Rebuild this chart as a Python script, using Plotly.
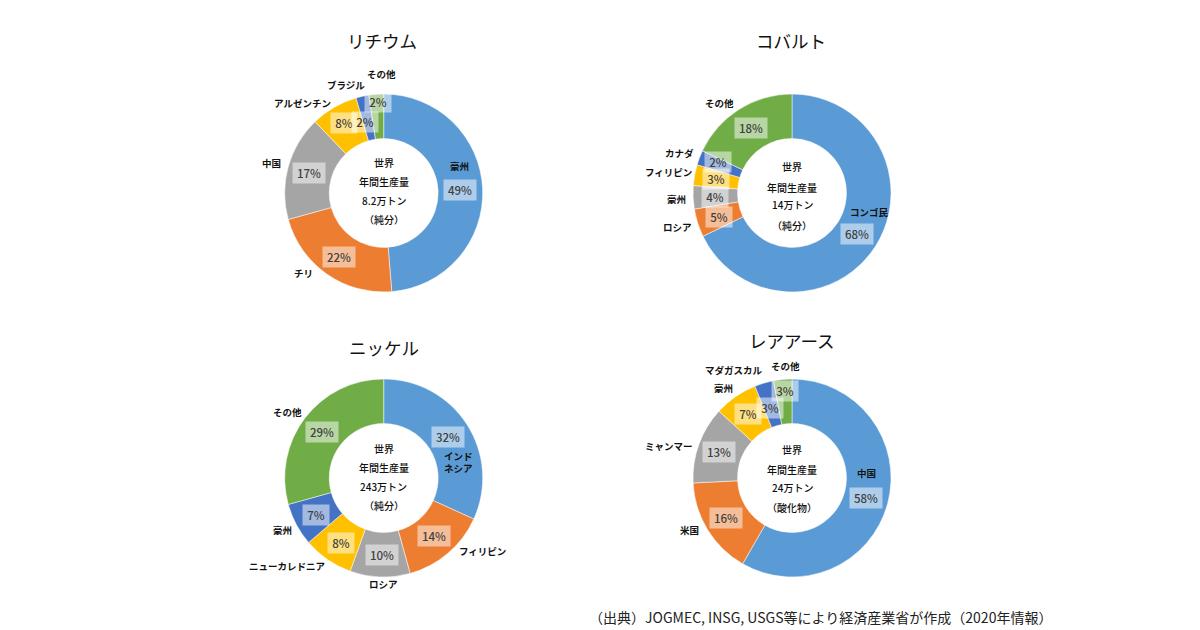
import plotly.graph_objects as go

W, H = 1200, 630
FONT = 'Noto Sans CJK JP'
COLORS = ['#5B9BD5', '#ED7D31', '#A5A5A5', '#FFC000', '#4472C4', '#70AD47']

# データ
titles = ['リチウム', 'コバルト', 'ニッケル', 'レアアース']

li_names = ['豪州', 'チリ', '中国', 'アルゼンチン', 'ブラジル', 'その他']
li_values = [48.7, 22.0, 17.1, 7.7, 2.1, 2.4]

co_names = ['コンゴ民', 'ロシア', '豪州', 'フィリピン', 'カナダ', 'その他']
co_values = [67.8, 4.6, 3.8, 3.4, 2.4, 18.0]

ni_names = ['インド<br>ネシア', 'フィリピン', 'ロシア', 'ニューカレドニア', '豪州', 'その他']
ni_values = [31.8, 13.9, 9.8, 8.2, 7.0, 29.3]

re_names = ['中国', '米国', 'ミャンマー', '豪州', 'マダガスカル', 'その他']
re_values = [58.3, 15.9, 12.6, 7.1, 3.1, 3.0]

center_texts = [
    ['世界', '年間生産量', '8.2万トン', '（純分）'],
    ['世界', '年間生産量', '14万トン', '（純分）'],
    ['世界', '年間生産量', '243万トン', '（純分）'],
    ['世界', '年間生産量', '24万トン', '（酸化物）'],
]
source = '（出典）JOGMEC, INSG, USGS等により経済産業省が作成（2020年情報）'

# レイアウト（ピクセル位置）
centers = [(383.7, 193), (792, 193), (383.7, 478), (792, 478)]
radius = 99
title_pos = [(382, 41), (791, 41), (384, 347), (792, 340)]
center_ys = [[163, 182, 200, 219], [167, 187, 205, 225], [448, 467, 486, 505], [449, 469, 487, 507]]
name_pos = [
    [(459, 166), (303, 273), (271, 163), (302, 103), (346, 85), (381, 74)],
    [(869, 212), (678, 227), (676, 199), (668, 172), (679, 153), (719, 103)],
    [(458, 462), (482, 551), (383, 584), (287, 566), (282, 530), (287, 412)],
    [(866, 473), (689, 530), (669, 446), (723, 388), (734, 370), (785, 366)],
]
pct_pos = [
    [(460, 190), (339, 257), (309, 173), (344, 123), (365, 122), (378, 102)],
    [(857, 234), (719, 217), (715, 197), (716, 179), (718, 162), (751, 128)],
    [(448, 437), (434, 536), (382, 555), (341, 543), (316, 515), (322, 432)],
    [(866, 498), (726, 518), (719, 452), (748, 414), (770, 408), (785, 391)],
]

names = [li_names, co_names, ni_names, re_names]
values = [li_values, co_values, ni_values, re_values]


def label(x, y, text, size, color='#000000', weight=400, **kw):
    return dict(x=x / W, y=1 - y / H, xref='paper', yref='paper', text=text, showarrow=False,
                xanchor='center', yanchor='middle',
                font=dict(family=FONT, size=size, color=color, weight=weight), **kw)


fig = go.Figure()
annotations = []

for i in range(4):
    cx, cy = centers[i]
    fig.add_trace(go.Pie(
        labels=names[i],
        values=values[i],
        hole=0.55,
        sort=False,
        direction='clockwise',
        rotation=0,
        textinfo='none',
        marker=dict(colors=COLORS, line=dict(color='white', width=0.5)),
        domain=dict(x=[(cx - radius) / W, (cx + radius) / W],
                    y=[1 - (cy + radius) / H, 1 - (cy - radius) / H]),
        showlegend=False,
    ))

    annotations.append(label(title_pos[i][0], title_pos[i][1], titles[i], 17.5, '#111111'))
    for line, y in zip(center_texts[i], center_ys[i]):
        annotations.append(label(cx, y, line, 10, '#111111', weight=500))
    for name, (x, y) in zip(names[i], name_pos[i]):
        annotations.append(label(x, y, name, 9.5, '#111111', weight=700))
    for v, (x, y) in zip(values[i], pct_pos[i]):
        txt = '%d%%' % round(v)
        annotations.append(label(x, y, txt, 11.5, '#404040', weight=500, bgcolor='rgba(255,255,255,0.5)',
                                 width=30 if len(txt) == 3 else 24, height=18))

annotations.append(label(820, 617, source, 14, '#222222'))

fig.update_layout(
    width=W, height=H,
    margin=dict(l=0, r=0, t=0, b=0),
    paper_bgcolor='white',
    annotations=annotations,
)

# ページの余白を消す
fig.write_html('out.html', config={'displayModeBar': False},
               post_script="document.body.style.margin='0';")
